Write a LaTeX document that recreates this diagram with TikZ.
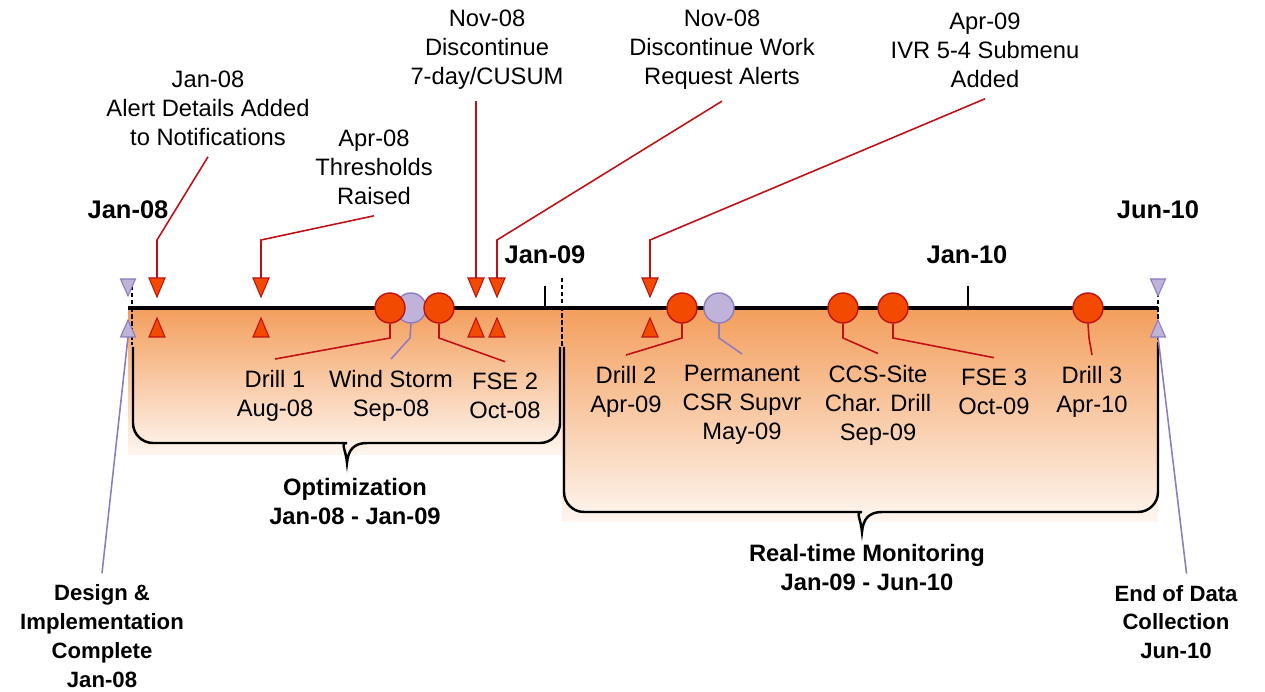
\documentclass[tikz,border=0pt]{standalone}
\usepackage{fontspec}
\setmainfont{Liberation Sans}
\usepackage{xcolor}
\usepackage{tikz}
\usetikzlibrary{arrows}

\definecolor{evred}{RGB}{242,75,0}
\definecolor{evredline}{RGB}{192,16,22}
\definecolor{evlilac}{RGB}{191,179,217}
\definecolor{evlilacline}{RGB}{143,124,192}
\definecolor{bandtop}{RGB}{243,158,92}
\definecolor{bandbottom}{RGB}{254,246,240}

\begin{document}
\begin{tikzpicture}[x=0.02cm, y=-0.02cm,
    redpin/.style={circle, draw=evredline, fill=evred, line width=0.8pt, minimum size=0.6cm, inner sep=0pt},
    lilacpin/.style={circle, draw=evlilacline, fill=evlilac, line width=0.8pt, minimum size=0.6cm, inner sep=0pt},
    redtri/.style={draw=evredline, fill=evred, line width=0.6pt},
    lilactri/.style={draw=evlilacline, fill=evlilac, line width=0.6pt},
    redlink/.style={draw=evredline, line width=0.9pt},
    lilaclink/.style={draw=evlilacline, line width=0.9pt},
    evlabel/.style={align=center, font=\fontsize{13.5}{16.5}\selectfont, inner sep=4pt, outer sep=2.5pt},
    datelabel/.style={font=\fontsize{14.5}{17}\selectfont\bfseries},
    phaselabel/.style={align=center, font=\fontsize{13.5}{16.5}\selectfont\bfseries, inner sep=4pt, outer sep=2.5pt},
    cornerlabel/.style={phaselabel, font=\fontsize{12.6}{16.4}\selectfont\bfseries},
    band/.style={top color=bandtop, bottom color=bandbottom, draw=none},
    bracket/.style={line width=1.4pt},
    marker/.style={line width=1pt, dash pattern=on 2.5pt off 1.5pt}]
  \useasboundingbox (0,0) rectangle (1265,692);

  \fill[band] (128,308) rectangle (562,455);
  \fill[band] (562,308) rectangle (1158,522);

  \draw[bracket] (133,347) [rounded corners=0.4cm] -- (133,443) -- (327,443) [sharp corners]
    .. controls (340,443) and (346,450) .. (347,463)
    .. controls (348,450) and (354,443) .. (367,443) [rounded corners=0.4cm] -- (560,443) -- (560,347);
  \draw[bracket] (564,347) [rounded corners=0.4cm] -- (564,512) -- (842,512) [sharp corners]
    .. controls (855,512) and (861,519) .. (862,532)
    .. controls (863,519) and (869,512) .. (882,512) [rounded corners=0.4cm] -- (1158,512) -- (1158,345);

  \draw[line width=2.5pt] (128,308) -- (1158,308);
  \draw[marker] (132,279) -- (132,345);
  \draw[marker] (562,278) -- (562,347);
  \draw[marker] (1158,279) -- (1158,345);
  \draw[line width=0.8pt] (545,286) -- (545,308);
  \draw[line width=0.8pt] (968,286) -- (968,308);

  \node[datelabel] (d08) at (128,210) {Jan-08};
  \node[datelabel] (d09) at (545,255) {Jan-09};
  \node[datelabel] (d10) at (967,255) {Jan-10};
  \node[datelabel] (d610) at (1158,210) {Jun-10};

  \foreach \x [count=\i] in {128,1158}{
    \filldraw[lilactri] (\x-7.5,279) -- (\x+7.5,279) -- (\x,296) -- cycle;
    \filldraw[lilactri] (\x-7.5,337) -- (\x+7.5,337) -- (\x,320) -- cycle;
    \coordinate (end\i) at (\x,337);
  }
  \foreach \x [count=\i] in {157,261,476,497,650}{
    \filldraw[redtri] (\x-8,278) -- (\x+8,278) -- (\x,297) -- cycle;
    \filldraw[redtri] (\x-8,337) -- (\x+8,337) -- (\x,318) -- cycle;
    \coordinate (tip\i) at (\x,278);
  }

  \foreach \x [count=\i] in {411,719}{
    \node[lilacpin] (p\i) at (\x,308) {};
  }
  \foreach \x [count=\i] in {390,439,682,843,893,1088}{
    \node[redpin] (r\i) at (\x,308) {};
  }

  \node[evlabel] (t1) at (208,108) {Jan-08\\Alert Details Added\\to Notifications};
  \node[evlabel] (t2) at (374,167) {Apr-08\\Thresholds\\Raised};
  \node[evlabel] (t3) at (487,50) {Nov-08\\Discontinue\\7-day/CUSUM};
  \node[evlabel] (t4) at (722,50) {Nov-08\\Discontinue Work\\Request Alerts};
  \node[evlabel] (t5) at (985,50) {Apr-09\\IVR 5-4 Submenu\\Added};

  \draw[redlink] (t1.south) -- (157,240) -- (tip1);
  \draw[redlink] (t2.south) -- (261,240) -- (tip2);
  \draw[redlink] (t3.south -| tip3) -- (tip3);
  \draw[redlink] (t4.south) -- (497,240) -- (tip4);
  \draw[redlink] (t5.south) -- (650,240) -- (tip5);

  \node[evlabel] (l1) at (275,396) {Drill 1\\Aug-08};
  \node[evlabel] (l2) at (391,396) {Wind Storm\\Sep-08};
  \node[evlabel] (l3) at (505,396) {FSE 2\\Oct-08};
  \node[evlabel] (l4) at (626,392) {Drill 2\\Apr-09};
  \node[evlabel] (l5) at (742,405) {Permanent\\CSR Supvr\\May-09};
  \node[evlabel] (l6) at (878,405) {CCS-Site\\Char. Drill\\Sep-09};
  \node[evlabel] (l7) at (994,392) {FSE 3\\Oct-09};
  \node[evlabel] (l8) at (1092,392) {Drill 3\\Apr-10};

  \draw[redlink] (r1.south) -- (390,338) -- (l1.north);
  \draw[lilaclink] (p1.south) -- (410,338) -- (l2.north);
  \draw[redlink] (r2.south) -- (439,338) -- (l3.north);
  \draw[redlink] (r3.south) -- (682,338) -- (l4.north);
  \draw[lilaclink] (p2.south) -- (719,338) -- (l5.north);
  \draw[redlink] (r4.south) -- (843,338) -- (l6.north);
  \draw[redlink] (r5.south) -- (893,338) -- (l7.north);
  \draw[redlink] (r6.south) -- (1089,338) -- (l8.north);

  \node[phaselabel] (opt) at (355,502) {Optimization\\Jan-08 - Jan-09};
  \node[phaselabel] (rtm) at (867,568) {Real-time Monitoring\\Jan-09 - Jun-10};
  \node[cornerlabel] (dic) at (102,636) {Design \&\\Implementation\\Complete\\Jan-08};
  \node[cornerlabel] (eod) at (1176,622) {End of Data\\Collection\\Jun-10};

  \draw[lilaclink] (end1) -- (dic.north);
  \draw[lilaclink] (end2) -- ([xshift=6pt]eod.north);
\end{tikzpicture}
\end{document}
